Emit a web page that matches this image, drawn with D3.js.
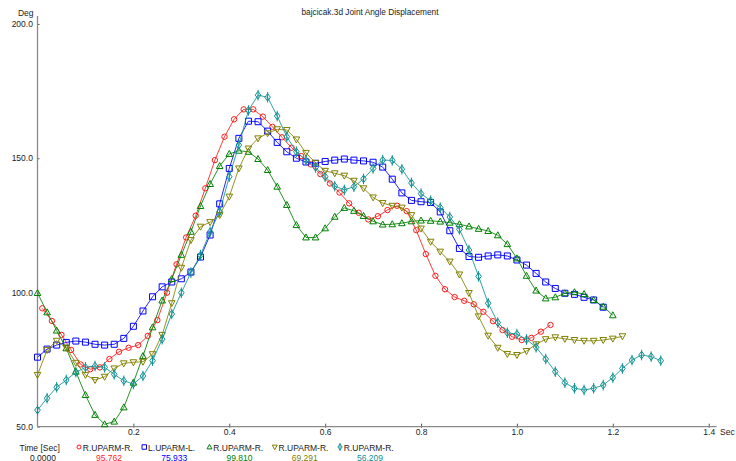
<!DOCTYPE html>
<html>
<head>
<meta charset="utf-8">
<script src="https://cdn.jsdelivr.net/npm/d3@7"></script>
<style>
  body { margin: 0; background: #fff; }
  svg { display: block; font-family: "Liberation Sans", Arial, sans-serif; }
</style>
</head>
<body>
<svg id="chart" width="736" height="461"></svg>
<script>
// ---- data -------------------------------------------------------------
const chartTitle = "bajcicak.3d Joint Angle Displacement";
const seriesNames = ["R.UPARM-R.", "L.UPARM-L.", "R.UPARM-R.", "R.UPARM-R.", "R.UPARM-R."];
const seriesStart = [0.01, 0, 0, 0, 0];   // time of first sample (s)
const timeStep = 0.02;                      // sampling interval (s)

const redValues = [94.1, 89.4, 84.2, 78.6, 73.2, 71.4, 72.1, 75.2, 77.9, 79.4,
  80.4, 83.8, 89.7, 99.9, 110.5, 120.5, 128.6, 138.8, 149.3, 158.0,
  164.5, 168.2, 168.2, 165.5, 161.7, 157.8, 153.9, 150.8, 147.7, 144.1,
  140.6, 137.2, 133.2, 129.7, 127.2, 128.4, 130.7, 132.3, 130.3, 123.2,
  114.3, 106.2, 101.2, 98.3, 96.9, 95.6, 92.8, 89.3, 86.0, 83.5,
  82.3, 83.1, 85.4, 87.9];

const blueValues = [75.9, 78.9, 80.4, 81.4, 81.9, 81.5, 80.7, 80.4, 80.7, 82.9,
  87.4, 93.1, 98.4, 102.1, 103.9, 105.1, 107.6, 113.2, 121.4, 133.0,
  146.2, 157.4, 163.8, 163.6, 160.1, 155.9, 152.4, 150.0, 148.6, 148.1,
  148.8, 149.3, 149.7, 149.3, 149.0, 148.5, 146.7, 142.2, 137.1, 134.3,
  133.8, 133.5, 130.0, 123.0, 116.4, 113.4, 113.1, 113.6, 114.0, 113.6,
  112.1, 110.2, 107.1, 103.9, 101.5, 99.7, 99.3, 98.2, 97.2, 94.5];

const greenValues = [99.8, 92.6, 85.8, 79.2, 70.5, 61.8, 54.4, 50.9, 51.9, 57.2,
  66.4, 76.3, 87.0, 97.0, 105.0, 114.0, 122.6, 132.2, 140.4, 147.1,
  151.6, 152.8, 152.4, 149.7, 145.6, 139.4, 132.6, 125.1, 120.5, 120.5,
  123.9, 128.2, 131.5, 130.4, 128.5, 126.5, 125.3, 125.4, 125.8, 126.5,
  126.8, 126.7, 126.4, 126.0, 125.4, 124.6, 123.7, 122.9, 121.3, 118.0,
  112.7, 106.2, 100.7, 97.8, 98.2, 99.7, 100.1, 99.4, 97.2, 94.7,
  91.5];

const oliveValues = [69.3, 78.6, 82.0, 79.4, 73.8, 69.3, 67.4, 68.6, 71.7, 73.6,
  74.0, 74.2, 77.0, 84.2, 96.0, 109.2, 119.5, 124.5, 126.2, 128.8,
  135.7, 146.2, 153.6, 157.4, 159.3, 160.8, 160.5, 157.0, 152.0, 148.3,
  145.3, 144.4, 143.5, 141.6, 138.8, 135.4, 133.3, 132.3, 131.6, 128.8,
  123.8, 118.9, 115.2, 111.5, 106.7, 99.8, 91.1, 83.9, 79.4, 77.1,
  76.7, 78.2, 80.7, 82.6, 83.3, 82.7, 82.3, 82.0, 82.0, 82.3,
  82.8, 83.7];

const tealValues = [56.2, 60.6, 64.7, 67.4, 70.3, 72.1, 72.6, 72.1, 69.5, 67.1,
  65.9, 68.9, 74.6, 82.6, 92.0, 99.9, 107.4, 113.9, 122.6, 130.1,
  143.1, 154.9, 167.8, 173.5, 172.7, 165.7, 158.0, 152.4, 149.3, 146.6,
  143.1, 139.6, 138.2, 139.4, 142.3, 146.2, 149.3, 149.2, 145.9, 140.8,
  136.8, 134.2, 131.6, 128.1, 123.5, 115.8, 106.0, 96.0, 88.8, 85.0,
  84.5, 82.5, 79.6, 75.2, 70.5, 66.4, 64.3, 63.7, 64.3, 65.5,
  68.3, 71.7, 74.8, 76.7, 76.1, 74.6];

const cursorTime = "0.0000";
const cursorValues = ["95.762", "75.933", "99.810", "69.291", "56.209"];

const xTicks = [0.2, 0.4, 0.6, 0.8, 1.0, 1.2, 1.4];
const yTicks = [50, 100, 150, 200];

// ---- styles -----------------------------------------------------------
const seriesValues = [redValues, blueValues, greenValues, oliveValues, tealValues];
const colors = ["#ff1a1a", "#0000ff", "#008000", "#808000", "#109090"];
const shapes = ["circle", "square", "triUp", "triDown", "diamond"];

function markerPath(shape, s) {
  const k = s / 4;
  switch (shape) {
    case "circle": {
      const r = 2.7 * k;
      return `M${-r},0A${r},${r} 0 1,0 ${r},0A${r},${r} 0 1,0 ${-r},0Z`;
    }
    case "square":
      return `M${-3 * k},${-3 * k}H${3 * k}V${3 * k}H${-3 * k}Z`;
    case "triUp":
      return `M0,${-3.5 * k}L${3.3 * k},${2.5 * k}H${-3.3 * k}Z`;
    case "triDown":
      return `M0,${3.5 * k}L${3.3 * k},${-2.5 * k}H${-3.3 * k}Z`;
    case "diamond":
      return `M0,${-3.8 * k}L${2.8 * k},0L0,${3.8 * k}L${-2.8 * k},0Z M0,${-5.3 * k}V${5.3 * k}`;
  }
}

// ---- chart ------------------------------------------------------------
const svg = d3.select("#chart");
const x = d3.scaleLinear().domain([0, 1.4]).range([37.5, 708.7]);
const y = d3.scaleLinear().domain([50, 200]).range([426.7, 24]);

const axisColor = "#8a8a8a";
const textColor = "#222";

// title
svg.append("text")
  .attr("x", 370).attr("y", 14.5)
  .attr("text-anchor", "middle")
  .attr("font-size", "8.3px")
  .attr("fill", textColor)
  .text(chartTitle);

// y axis
const yAxis = svg.append("g")
  .attr("transform", "translate(37.5,0)")
  .call(d3.axisLeft(y).tickValues(yTicks).tickFormat(d3.format(".1f"))
    .tickSizeInner(4).tickSizeOuter(0).tickPadding(0.6));
yAxis.select(".domain").remove();
yAxis.selectAll(".tick line").attr("x2", 2).attr("stroke", "#555");
yAxis.selectAll(".tick text")
  .attr("font-size", "8.5px").attr("font-family", "Liberation Sans, Arial, sans-serif")
  .attr("fill", textColor);
svg.append("line")
  .attr("x1", 37.5).attr("x2", 37.5)
  .attr("y1", 16).attr("y2", y(50))
  .attr("stroke", axisColor).attr("stroke-width", 1.3);

// x axis
const xAxis = svg.append("g")
  .attr("transform", `translate(0,${y(50)})`)
  .call(d3.axisBottom(x).tickValues(xTicks).tickFormat(d3.format(".1f"))
    .tickSizeOuter(0));
xAxis.select(".domain").remove();
xAxis.selectAll(".tick line").attr("y1", -3).attr("y2", 1).attr("stroke", "#555");
xAxis.selectAll(".tick text")
  .attr("y", 7.8).attr("dy", null)
  .attr("font-size", "8.5px").attr("font-family", "Liberation Sans, Arial, sans-serif")
  .attr("fill", textColor);
svg.append("line")
  .attr("x1", 37.5).attr("x2", 716.5)
  .attr("y1", y(50)).attr("y2", y(50))
  .attr("stroke", axisColor).attr("stroke-width", 1.3);

// axis units
svg.append("text")
  .attr("x", 33.5).attr("y", 15.5).attr("text-anchor", "end")
  .attr("font-size", "8.5px").attr("fill", textColor).text("Deg");
svg.append("text")
  .attr("x", 720).attr("y", 434.8)
  .attr("font-size", "8.5px").attr("fill", textColor).text("Sec");

// series
const line = d3.line().x(d => x(d.t)).y(d => y(d.v));
const plot = svg.append("g");
seriesValues.forEach((vals, i) => {
  const pts = vals.map((v, j) => ({ t: seriesStart[i] + j * timeStep, v }));
  const g = plot.append("g");
  g.append("path")
    .datum(pts)
    .attr("d", line)
    .attr("fill", "none")
    .attr("stroke", colors[i])
    .attr("stroke-width", 1)
    .attr("stroke-opacity", 0.85);
  g.selectAll("path.mk")
    .data(pts)
    .join("path")
    .attr("class", "mk")
    .attr("transform", d => `translate(${x(d.t)},${y(d.v)})`)
    .attr("d", markerPath(shapes[i], 4))
    .attr("fill", "none")
    .attr("stroke", colors[i])
    .attr("stroke-width", 1);
});

// cursor readout legend
const legend = svg.append("g").attr("font-size", "8.5px");
legend.append("text").attr("x", 19.5).attr("y", 450.5).attr("fill", textColor).text("Time [Sec]");
legend.append("text").attr("x", 30).attr("y", 460.5).attr("fill", textColor).text(cursorTime);
seriesNames.forEach((name, i) => {
  const mx = 79 + i * 65.25;
  legend.append("path")
    .attr("transform", `translate(${mx},447)`)
    .attr("d", markerPath(shapes[i], 3))
    .attr("fill", "none")
    .attr("stroke", colors[i]);
  legend.append("text")
    .attr("x", mx + 3.8).attr("y", 450.5)
    .attr("fill", textColor).text(name);
  legend.append("text")
    .attr("x", mx + 17).attr("y", 460.5)
    .attr("fill", colors[i]).text(cursorValues[i]);
});
</script>
</body>
</html>
